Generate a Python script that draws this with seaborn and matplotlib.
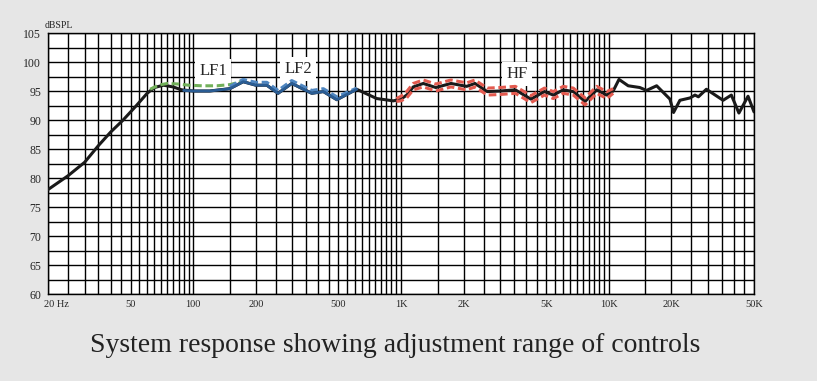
import numpy as np
import matplotlib.pyplot as plt
import matplotlib.transforms as mtrans
from matplotlib.ticker import NullFormatter
import seaborn as sns

# System response (black)
freq = [20, 25, 30, 35, 40, 46, 53, 60, 65, 72, 80, 88, 100, 120, 150, 174, 200,
        226, 256, 298, 372, 423, 491, 612, 764, 918, 1000, 1065, 1145, 1280,
        1470, 1740, 2070, 2270, 2600, 3000, 3550, 4220, 4900, 5410, 6040, 6750,
        7690, 8750, 9780, 10500, 11200, 12400, 14100, 15200, 17000, 19700,
        20500, 22000, 24600, 26000, 27000, 29500, 35500, 38900, 42300, 46800,
        50000]
spl = [78.0, 80.4, 82.7, 85.6, 87.9, 90.0, 92.4, 94.6, 95.6, 96.0, 95.7, 95.2,
       95.0, 95.0, 95.4, 96.6, 96.0, 96.0, 94.6, 96.3, 94.6, 94.9, 93.5, 95.3,
       93.7, 93.3, 93.6, 94.3, 95.7, 96.3, 95.6, 96.3, 95.8, 96.3, 94.9, 95.0,
       95.2, 93.6, 94.9, 94.3, 95.2, 94.9, 93.2, 95.2, 94.3, 95.0, 97.0, 95.9,
       95.6, 95.1, 95.9, 93.6, 91.3, 93.4, 93.8, 94.3, 94.0, 95.3, 93.4, 94.3,
       91.2, 94.1, 91.4]

# LF1 control (green dashed)
lf1_freq = [62, 68, 75, 85, 95, 110, 130, 150, 170]
lf1_spl = [95.3, 96.0, 96.3, 96.2, 96.0, 95.9, 95.9, 96.1, 96.6]

# LF2 control (blue solid + blue dashed)
lf2_freq = [90, 100, 120, 150, 174, 200, 226, 256, 298, 372, 423, 491, 612]
lf2_spl = [95.1, 95.0, 95.0, 95.4, 96.6, 96.0, 96.0, 94.6, 96.3, 94.6, 94.9,
           93.5, 95.3]
lf2_alt_freq = [150, 174, 200, 226, 256, 298, 372, 423, 491, 612]
lf2_alt_spl = [95.8, 97.0, 96.5, 96.5, 95.1, 96.8, 95.1, 95.4, 94.0, 95.5]

# HF control range (red dashed pair)
hf_freq = [950, 1000, 1065, 1145, 1280, 1470, 1740, 2070, 2270, 2600, 3000,
           3550, 4220, 4900, 5410, 6040, 6750, 7690, 8750, 9780, 10500]
hf_upper = [93.7, 94.1, 94.9, 96.3, 96.9, 96.2, 96.9, 96.4, 96.9, 95.5, 95.6,
            95.8, 94.2, 95.5, 94.9, 95.8, 95.5, 93.8, 95.8, 94.9, 95.4]
hf_lower = [93.2, 93.3, 93.8, 95.2, 95.7, 95.0, 95.7, 95.2, 95.7, 94.3, 94.4,
            94.6, 93.0, 94.3, 93.7, 94.6, 94.3, 92.6, 94.6, 93.7, 94.6]

x_ticks = [20, 50, 100, 200, 500, 1000, 2000, 5000, 10000, 20000, 50000]
x_labels = ['20 Hz', '50', '100', '200', '500', '1K', '2K', '5K', '10K', '20K', '50K']
y_ticks = list(range(60, 106, 5))

sns.set_style('white')
plt.rcParams['font.family'] = ['Liberation Serif', 'DejaVu Serif']

fig = plt.figure(figsize=(8.17, 3.81), dpi=100, facecolor='#e6e6e6')
ax = fig.add_axes([48 / 817, 1 - 294 / 381, 706 / 817, 261 / 381])
ax.set_facecolor('white')

# curves
sns.lineplot(x=freq, y=spl, ax=ax, color='#1a1a1a', lw=2.2, sort=False,
             estimator=None, zorder=3)
sns.lineplot(x=lf1_freq, y=lf1_spl, ax=ax, color='#72b05a', lw=2.2,
             linestyle=(0, (2.5, 1.2)), sort=False, estimator=None, zorder=4)
sns.lineplot(x=lf2_alt_freq, y=lf2_alt_spl, ax=ax, color='#4f86c0', lw=2.2,
             linestyle=(0, (2.5, 1.2)), sort=False, estimator=None, zorder=4)
sns.lineplot(x=lf2_freq, y=lf2_spl, ax=ax, color='#2a5c93', lw=2.0,
             sort=False, estimator=None, zorder=5)
sns.lineplot(x=hf_freq, y=hf_upper, ax=ax, color='#e35a4f', lw=2.2,
             linestyle=(0, (2.5, 1.2)), sort=False, estimator=None, zorder=4)
sns.lineplot(x=hf_freq, y=hf_lower, ax=ax, color='#e35a4f', lw=2.2,
             linestyle=(0, (2.5, 1.2)), sort=False, estimator=None, zorder=4)

ax.set_xscale('log')
ax.set_xlim(20, 50000)
ax.set_ylim(60, 105)

# grid: 0.5 steps inside each decade, 2.5 dB steps
grid_x = [m * 10 ** e for e in range(1, 5) for m in np.arange(1, 10.01, 0.5)]
grid_x = [g for g in grid_x if 20 <= g <= 50000]
ax.set_xticks(x_ticks)
ax.set_xticklabels(x_labels)
ax.set_xticks(grid_x, minor=True)
ax.xaxis.set_minor_formatter(NullFormatter())
ax.set_yticks(y_ticks)
ax.set_yticks(np.arange(60, 105.1, 2.5), minor=True)
ax.set_axisbelow(True)
ax.grid(which='both', color='black', lw=1.0)
ax.tick_params(which='both', length=0)
ax.tick_params(axis='x', labelsize=7.5, pad=4)
ax.tick_params(axis='y', labelsize=8.5, pad=5)
ax.set_xlabel('')
ax.set_ylabel('')
for s in ax.spines.values():
    s.set_color('black')
    s.set_linewidth(1.0)

# first label starts at the axis with "Hz" trailing
first = ax.get_xticklabels()[0]
first.set_horizontalalignment('left')
first.set_transform(first.get_transform() +
                    mtrans.ScaledTranslation(-4 / 100, 0, fig.dpi_scale_trans))

box = dict(facecolor='white', edgecolor='none', boxstyle='square,pad=0.25')
ax.text(125, 98.4, 'LF1', fontsize=12, ha='center', va='center', bbox=box, zorder=2)
ax.text(321, 98.8, 'LF2', fontsize=12, ha='center', va='center', bbox=box, zorder=2)
ax.text(3620, 97.9, 'HF', fontsize=12, ha='center', va='center', bbox=box, zorder=2)

fig.text(45 / 817, 1 - 25 / 381, 'dBSPL', fontsize=7, ha='left', va='center')
fig.text(395 / 817, 1 - 345 / 381, 'System response showing adjustment range of controls',
         fontsize=20, ha='center', va='center', color='#222222')

fig.savefig('out.png', dpi=100, facecolor=fig.get_facecolor())
